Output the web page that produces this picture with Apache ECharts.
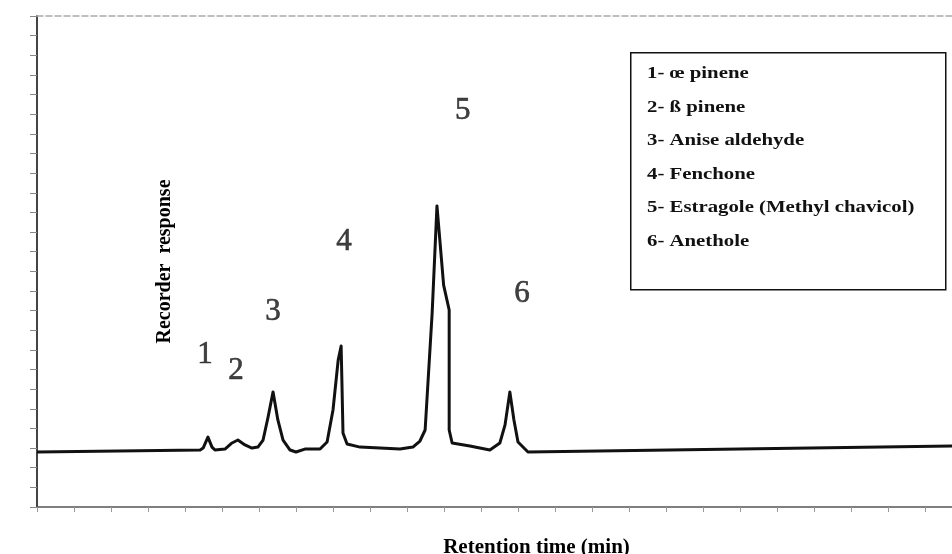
<!DOCTYPE html>
<html>
<head>
<meta charset="utf-8">
<script src="https://cdn.jsdelivr.net/npm/echarts@6/dist/echarts.min.js"></script>
<style>
  html, body { margin: 0; padding: 0; background: #fff; }
  #chart { width: 952px; height: 554px; }
</style>
</head>
<body>
<div id="chart"></div>
<script>
// chromatogram trace: retention time (min) / recorder response
const traceTime = [0, 4.41, 4.49, 4.62, 4.73, 4.81, 5.08, 5.27, 5.43, 5.62, 5.81, 5.97, 6.11, 6.24, 6.38, 6.51, 6.65, 6.84, 7.00, 7.24, 7.65, 7.84, 8.00, 8.14, 8.22, 8.24, 8.27, 8.38, 8.73, 9.81, 10.16, 10.35, 10.49, 10.68, 10.81, 10.86, 10.99, 11.14, 11.14, 11.22, 11.70, 12.24, 12.51, 12.65, 12.78, 12.89, 13.00, 13.27, 24.73]
const traceResponse = [2.80, 2.90, 3.00, 3.56, 3.05, 2.90, 2.95, 3.26, 3.41, 3.16, 3.00, 3.05, 3.41, 4.53, 5.86, 4.43, 3.41, 2.90, 2.80, 2.95, 2.95, 3.31, 4.94, 7.48, 8.20, 6.47, 3.77, 3.21, 3.05, 2.95, 3.05, 3.36, 3.92, 9.88, 15.33, 15.33, 11.30, 10.03, 3.92, 3.26, 3.11, 2.90, 3.26, 4.18, 5.86, 4.43, 3.31, 2.80, 3.11]

// peak numbers written above the peaks
const peakNames = ['1', '2', '3', '4', '5', '6']
const peakLabelTime = [4.54, 5.38, 6.38, 8.30, 11.51, 13.11]
const peakLabelResponse = [7.74, 6.92, 9.93, 13.49, 20.16, 10.85]

// key box
const compounds = [
  '1- œ pinene',
  '2- ß pinene',
  '3- Anise aldehyde',
  '4- Fenchone',
  '5- Estragole (Methyl chavicol)',
  '6- Anethole'
]

const chart = echarts.init(document.getElementById('chart'))

const serif = '"Liberation Serif", "Times New Roman", serif'

const option = {
  animation: false,
  backgroundColor: '#fff',
  grid: { left: 37, right: 0, top: 16, bottom: 47, outerBoundsMode: 'none' },
  xAxis: [{
    type: 'value',
    min: 0,
    max: 24.73,
    interval: 1,
    name: 'Retention time (min)',
    nameLocation: 'middle',
    nameGap: 30,
    nameTextStyle: { fontFamily: serif, fontWeight: 'bold', fontSize: 21, color: '#000', padding: [0, 0, 0, 84] },
    axisLine: { lineStyle: { color: '#555', width: 1.5 } },
    axisTick: { inside: false, length: 5, lineStyle: { color: '#999' } },
    axisLabel: { show: false },
    splitLine: { show: false }
  }, {
    type: 'value',
    position: 'top',
    min: 0,
    max: 24.73,
    axisLine: { lineStyle: { color: '#aaa', width: 1.5, type: 'dashed' } },
    axisTick: { show: false },
    axisLabel: { show: false },
    splitLine: { show: false }
  }],
  yAxis: {
    type: 'value',
    min: 0,
    max: 25,
    interval: 1,
    name: 'Recorder  response',
    nameLocation: 'middle',
    nameRotate: 90,
    nameGap: -138,
    nameTextStyle: { fontFamily: serif, fontWeight: 'bold', fontSize: 20, color: '#000' },
    axisLine: { lineStyle: { color: '#444', width: 2 } },
    axisTick: { length: 7, lineStyle: { color: '#888' } },
    axisLabel: { show: false },
    splitLine: { show: false }
  },
  series: [{
    type: 'line',
    data: traceTime.map((t, i) => [t, traceResponse[i]]),
    symbol: 'none',
    smooth: false,
    lineStyle: { color: '#111', width: 3, join: 'round' }
  }, {
    type: 'scatter',
    symbolSize: 0,
    data: peakNames.map((n, i) => ({ name: n, value: [peakLabelTime[i], peakLabelResponse[i]] })),
    label: {
      show: true,
      position: 'inside',
      formatter: p => p.name,
      fontFamily: serif,
      fontSize: 31,
      color: '#111',
      textBorderColor: '#111',
      textBorderWidth: 0.6
    }
  }],
  graphic: [{
    type: 'rect',
    left: 630,
    top: 52,
    shape: { width: 315, height: 237 },
    style: { fill: '#fff', stroke: '#111', lineWidth: 1.5 }
  }, {
    type: 'text',
    x: 647,
    y: 57,
    scaleX: 1.3,
    style: {
      text: compounds.join('\n'),
      font: 'bold 16px ' + serif,
      lineHeight: 33.6,
      fill: '#111'
    }
  }]
}

chart.setOption(option)
</script>
</body>
</html>
